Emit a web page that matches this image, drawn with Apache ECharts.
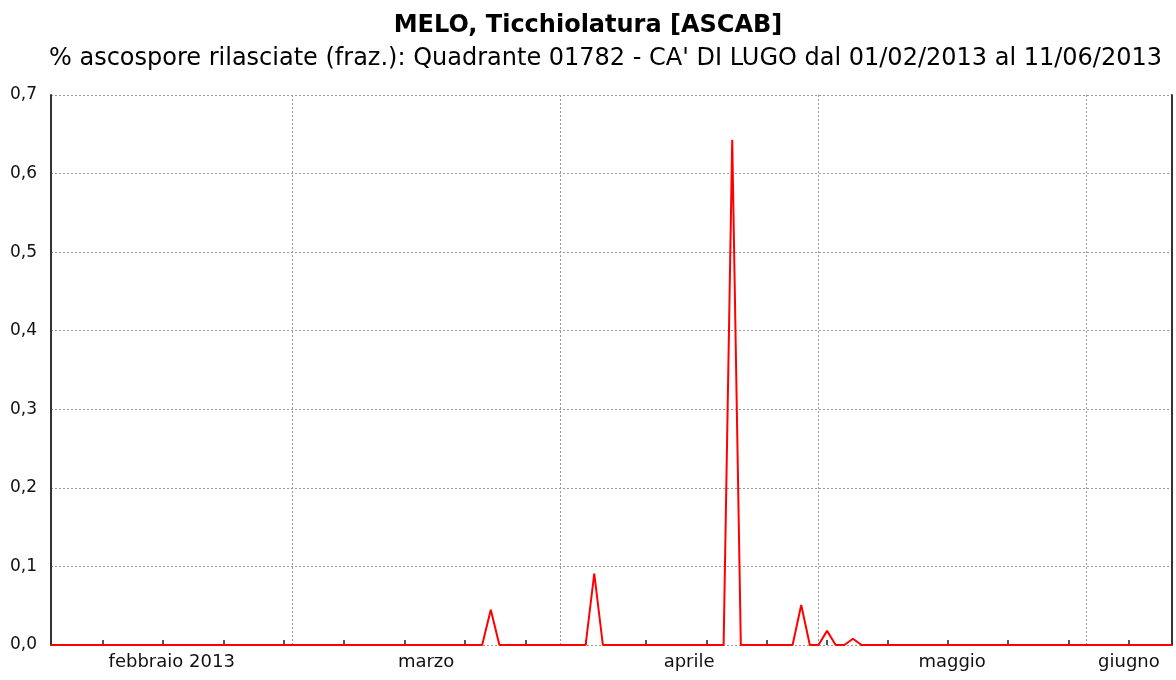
<!DOCTYPE html>
<html>
<head>
<meta charset="utf-8">
<script src="https://cdn.jsdelivr.net/npm/echarts@6/dist/echarts.min.js"></script>
<style>
  html, body { margin: 0; padding: 0; background: #fff; }
  #chart { width: 1176px; height: 680px; }
</style>
</head>
<body>
<div id="chart"></div>
<script>
// valori giornalieri (frazione ascospore rilasciate), giorno 0 = 01/02/2013
var febbraio = [0,0,0,0,0,0,0,0,0,0, 0,0,0,0,0,0,0,0,0,0, 0,0,0,0,0,0,0,0];
var marzo = [0,0,0,0,0,0,0,0,0,0, 0,0,0,0,0,0,0,0,0,0, 0,0,0,0.045,0,0,0,0,0,0, 0];
var aprile = [0,0,0,0,0.091,0,0,0,0,0, 0,0,0,0,0,0,0,0,0,0, 0.643,0,0,0,0,0,0,0,0.051,0];
var maggio = [0,0.018,0,0,0.008,0,0,0,0,0, 0,0,0,0,0,0,0,0,0,0, 0,0,0,0,0,0,0,0,0,0, 0];
var giugno = [0,0,0,0,0,0,0,0,0,0, 0];

// inizio mese (giorni da 01/02) e centri delle etichette
var inizioMesi = [28, 59, 89, 120];
var nomiMesi = ['febbraio 2013', 'marzo', 'aprile', 'maggio', 'giugno'];
var centriMesi = [14, 43.5, 74, 104.5, 125];
// tacche settimanali (giovedi)
var tacche = [6, 13, 20, 27, 34, 41, 48, 55, 62, 69, 76, 83, 90, 97, 104, 111, 118, 125];

var valori = febbraio.concat(marzo, aprile, maggio, giugno);
var dati = valori.map(function (v, i) { return [i, v]; });

var FONT = 'DejaVu Sans';
var myChart = echarts.init(document.getElementById('chart'));

var option = {
    animation: false,
    title: [
        {
            text: 'MELO, Ticchiolatura [ASCAB]',
            left: 'center',
            top: 9,
            textStyle: { fontFamily: FONT, fontSize: 24, fontWeight: 'bold', color: '#000' }
        },
        {
            text: "% ascospore rilasciate (fraz.): Quadrante 01782 - CA' DI LUGO dal 01/02/2013 al 11/06/2013",
            left: 44,
            top: 42,
            textStyle: { fontFamily: FONT, fontSize: 24, fontWeight: 'normal', color: '#000' }
        }
    ],
    grid: { left: 51, right: 4, top: 95, bottom: 35 },
    xAxis: {
        type: 'value',
        min: 0,
        max: 130,
        axisLine: { show: false },
        axisTick: {
            show: true,
            inside: true,
            length: 5,
            customValues: tacche,
            lineStyle: { color: '#222', width: 1.5 }
        },
        axisLabel: {
            customValues: centriMesi,
            margin: 8,
            fontFamily: FONT,
            fontSize: 18,
            color: '#111',
            formatter: function (v) {
                var i = centriMesi.indexOf(v);
                return i >= 0 ? nomiMesi[i] : '';
            }
        },
        splitLine: { show: false }
    },
    yAxis: [
        {
            type: 'value',
            min: 0,
            max: 0.7,
            interval: 0.1,
            axisLine: { show: true, lineStyle: { color: '#333', width: 2 } },
            axisTick: { show: false },
            axisLabel: {
                margin: 14,
                fontFamily: FONT,
                fontSize: 17,
                color: '#111',
                formatter: function (v) { return v.toFixed(1).replace('.', ','); }
            },
            splitLine: { show: true, lineStyle: { color: '#999', type: [2, 2], width: 1 } }
        },
        {
            type: 'value',
            position: 'right',
            min: 0,
            max: 0.7,
            axisLine: { show: true, lineStyle: { color: '#333', width: 2 } },
            axisTick: { show: false },
            axisLabel: { show: false },
            splitLine: { show: false }
        }
    ],
    series: [
        {
            type: 'line',
            data: dati,
            symbol: 'none',
            lineStyle: { color: '#ff0000', width: 2 },
            z: 5,
            markLine: {
                silent: true,
                symbol: 'none',
                label: { show: false },
                lineStyle: { color: '#999', type: [2, 2], width: 1 },
                data: inizioMesi.map(function (d) { return { xAxis: d }; })
            }
        }
    ]
};

myChart.setOption(option);
</script>
</body>
</html>
